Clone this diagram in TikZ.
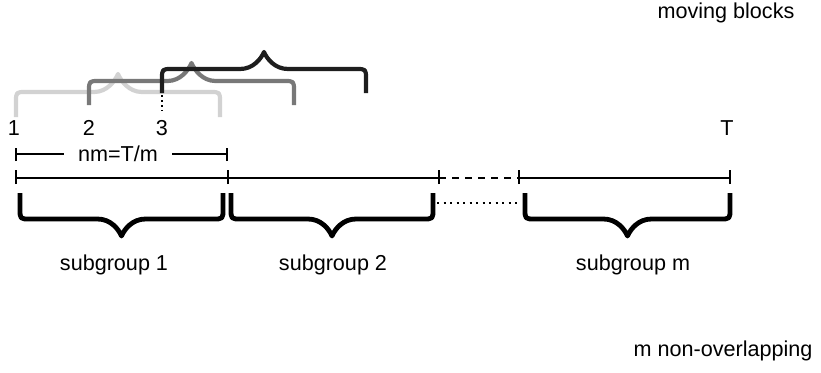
\documentclass[tikz,border=0pt]{standalone}
\usepackage{fontspec}
\setmainfont{Liberation Sans}
\definecolor{lightbr}{HTML}{D2D2D2}
\definecolor{midbr}{HTML}{787878}
\definecolor{darkbr}{HTML}{1E1E1E}
\tikzset{
  lbl/.style={font=\fontsize{21.6}{26}\selectfont, inner sep=0pt, anchor=base},
  axis/.style={line width=1.3pt, black},
  tick/.style={line width=1.5pt, black},
  bracestroke/.style={line width=4.2pt, line join=round},
  bigbrace/.style={bracestroke, line width=4.8pt, black},
}
% style, left x, right x, end y, horizontal y, tip y
\newcommand\curlybrace[6]{%
  \pgfmathsetmacro\bm{(#2+#3)/2}%
  \pgfmathsetmacro\bc{#5+10*sign(#4-#5)}%
  \pgfmathsetmacro\bt{#6+7*sign(#5-#6)}%
  \draw[#1] (#2,#4) -- (#2,\bc) .. controls (#2,#5) .. (#2+10,#5)
    -- (\bm-24,#5) .. controls (\bm-11,#5) and (\bm-3,\bt) .. (\bm,#6)
    .. controls (\bm+3,\bt) and (\bm+11,#5) .. (\bm+24,#5)
    -- (#3-10,#5) .. controls (#3,#5) .. (#3,\bc) -- (#3,#4);}
\begin{document}
\begin{tikzpicture}[x=1pt,y=-1pt]
\useasboundingbox (0,0) rectangle (821,372);

% titles
\node[lbl] (mb) at (726,18) {moving blocks};
\node[lbl] (mno) at (723,356) {m non-overlapping};

% moving blocks braces
\curlybrace{bracestroke, lightbr}{16}{220}{117}{92}{74}
\curlybrace{bracestroke, midbr}{89}{294}{105}{81}{63}
\curlybrace{bracestroke, darkbr}{162}{366}{93}{69}{52}
\coordinate (d1) at (162,95);
\coordinate (d2) at (162,111);
\draw[line width=1.5pt, dash pattern=on 2pt off 3pt] (d1) -- (d2);

% position labels
\node[lbl] (p1) at (14,135) {1};
\node[lbl] (p2) at (89,135) {2};
\node[lbl] (p3) at (162,135) {3};
\node[lbl] (pT) at (727,135) {T};

% nm = T/m span
\coordinate (nA) at (16,154);
\coordinate (nB) at (227,154);
\node[lbl, anchor=center, fill=white, inner xsep=14pt] (nm) at (118,154) {nm=T/m};
\draw[axis] (nA) -- (nA -| nm.west);
\draw[axis] (nm.east |- nB) -- (nB);
\draw[tick] ([yshift=-7pt]nA) -- ([yshift=6pt]nA);
\draw[tick] ([yshift=-7pt]nB) -- ([yshift=6pt]nB);

% timeline
\coordinate (t0) at (16,178);
\coordinate (t1) at (228,178);
\coordinate (t2) at (439,178);
\coordinate (t3) at (519,178);
\coordinate (t4) at (730,178);
\draw[axis] (t0) -- (t1) -- (t2);
\draw[axis, dash pattern=on 7pt off 6pt] (t2) -- (t3);
\draw[axis] (t3) -- (t4);
\foreach \t in {t0,t1,t2,t3,t4}
  \draw[tick] ([yshift=-6pt]\t) -- ([yshift=8pt]\t);

% subgroup braces
\curlybrace{bigbrace}{20}{223}{193}{219}{236}
\curlybrace{bigbrace}{231}{433}{193}{219}{236}
\curlybrace{bigbrace}{525}{730}{193}{219}{236}
\coordinate (s1) at (437,203);
\coordinate (s2) at (518,203);
\draw[line width=1.3pt, dash pattern=on 2pt off 4.5pt] (s1) -- (s2);

% subgroup labels
\node[lbl] (g1) at (114,270) {subgroup 1};
\node[lbl] (g2) at (333,270) {subgroup 2};
\node[lbl] (gm) at (633,270) {subgroup m};
\end{tikzpicture}
\end{document}
